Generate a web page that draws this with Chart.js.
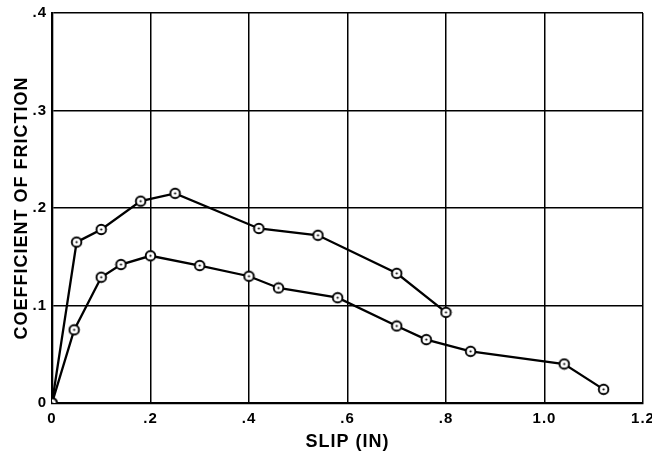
<!DOCTYPE html>
<html>
<head>
<meta charset="utf-8">
<script src="https://cdn.jsdelivr.net/npm/chart.js@4"></script>
<style>
  html, body { margin: 0; padding: 0; background: #fff; }
  #wrap { width: 652px; height: 453px; }
</style>
</head>
<body>
<div id="wrap"><canvas id="friction-chart" width="652" height="453"></canvas></div>
<script>
// slip (in) vs coefficient of friction
var upperSlip = [0, 0.05, 0.10, 0.18, 0.25, 0.42, 0.54, 0.70, 0.80];
var upperCoef = [0, 0.165, 0.178, 0.207, 0.215, 0.179, 0.172, 0.133, 0.093];
var lowerSlip = [0, 0.045, 0.10, 0.14, 0.20, 0.30, 0.40, 0.46, 0.58, 0.70, 0.76, 0.85, 1.04, 1.12];
var lowerCoef = [0, 0.075, 0.129, 0.142, 0.151, 0.141, 0.130, 0.118, 0.108, 0.079, 0.065, 0.053, 0.040, 0.014];
var xTickLabels = ['0', '.2', '.4', '.6', '.8', '1.0', '1.2'];
var yTickLabels = ['0', '.1', '.2', '.3', '.4'];

function pairs(xs, ys) {
  return xs.map(function (x, i) { return { x: x, y: ys[i] }; });
}

// open circle with a dot in the middle
function makeMarker() {
  var c = document.createElement('canvas');
  c.width = 13; c.height = 13;
  var g = c.getContext('2d');
  g.beginPath();
  g.arc(6.5, 6.5, 4.8, 0, Math.PI * 2);
  g.fillStyle = '#fff';
  g.fill();
  g.lineWidth = 1.9;
  g.strokeStyle = '#000';
  g.stroke();
  g.beginPath();
  g.arc(6.5, 6.5, 1.1, 0, Math.PI * 2);
  g.fillStyle = '#000';
  g.fill();
  return c;
}
var marker = makeMarker();

var spacing = {
  id: 'spacing',
  beforeDraw: function (chart) { chart.ctx.letterSpacing = '1px'; }
};

document.addEventListener('DOMContentLoaded', function () {
  var ctx = document.getElementById('friction-chart').getContext('2d');
  var lineStyle = {
    borderColor: '#000',
    borderWidth: 2.3,
    pointStyle: marker,
    pointRadius: 6,
    tension: 0,
    fill: false
  };
  new Chart(ctx, {
    type: 'line',
    data: {
      datasets: [
        Object.assign({ label: 'upper', data: pairs(upperSlip, upperCoef) }, lineStyle),
        Object.assign({ label: 'lower', data: pairs(lowerSlip, lowerCoef) }, lineStyle)
      ]
    },
    options: {
      responsive: false,
      animation: false,
      layout: { padding: { top: 13, right: 9, left: 0, bottom: 0 } },
      scales: {
        x: {
          type: 'linear',
          min: 0,
          max: 1.2,
          ticks: {
            stepSize: 0.2,
            color: '#000',
            padding: 7,
            font: { family: 'Liberation Sans', size: 15, weight: 'bold' },
            callback: function (v, i) { return xTickLabels[i]; }
          },
          grid: { color: '#000', lineWidth: 1.5, drawTicks: false },
          border: { color: '#000', width: 2.3 },
          title: {
            display: true,
            text: 'SLIP (IN)',
            color: '#000',
            padding: { top: 0, bottom: 0 },
            font: { family: 'Liberation Sans', size: 18, weight: 'bold' }
          },
          afterFit: function (axis) {
            axis.height = 50;
            axis.paddingLeft = 0;
            axis.paddingRight = 0;
          }
        },
        y: {
          min: 0,
          max: 0.4,
          ticks: {
            stepSize: 0.1,
            color: '#000',
            padding: 5,
            font: { family: 'Liberation Sans', size: 15, weight: 'bold' },
            callback: function (v, i) { return yTickLabels[i]; }
          },
          grid: { color: '#000', lineWidth: 1.5, drawTicks: false },
          border: { color: '#000', width: 2.3 },
          title: {
            display: true,
            text: 'COEFFICIENT OF FRICTION',
            color: '#000',
            padding: { top: 11, bottom: 0 },
            font: { family: 'Liberation Sans', size: 18, weight: 'bold' }
          },
          afterFit: function (axis) {
            axis.width = 52;
            axis.paddingTop = 0;
            axis.paddingBottom = 0;
          }
        }
      },
      plugins: {
        legend: { display: false },
        tooltip: { enabled: false }
      }
    },
    plugins: [spacing]
  });
});
</script>
</body>
</html>
